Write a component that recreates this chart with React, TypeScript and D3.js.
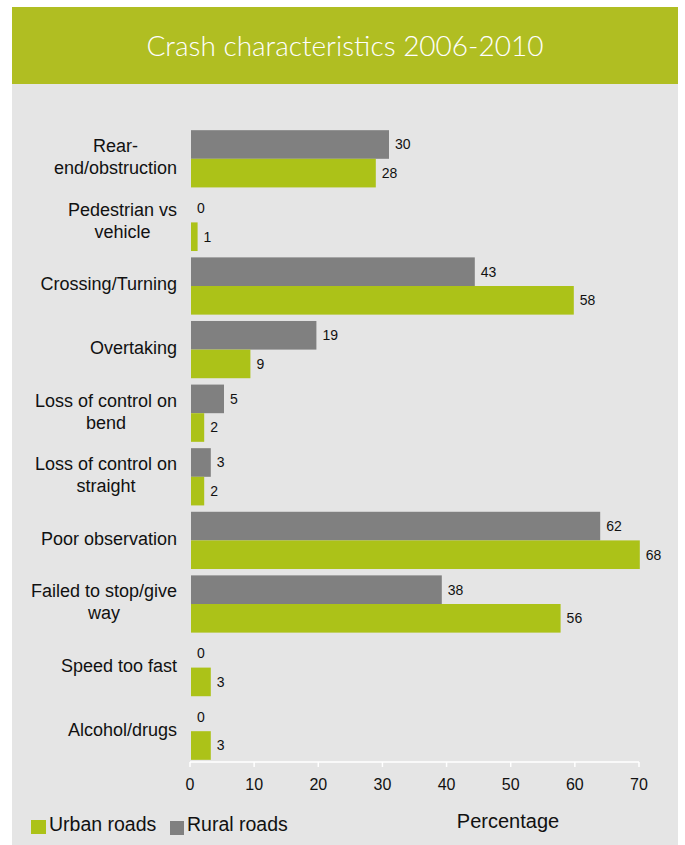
import React from "react";
import * as d3 from "d3";

const categories: string[][] = [
  ["Rear-", "end/obstruction"],
  ["Pedestrian vs", "vehicle"],
  ["Crossing/Turning"],
  ["Overtaking"],
  ["Loss of control on", "bend"],
  ["Loss of control on", "straight"],
  ["Poor observation"],
  ["Failed to stop/give", "way"],
  ["Speed too fast"],
  ["Alcohol/drugs"],
];
const urban: number[] = [28, 1, 58, 9, 2, 2, 68, 56, 3, 3];
const rural: number[] = [30, 0, 43, 19, 5, 3, 62, 38, 0, 0];
const ticks: number[] = [0, 10, 20, 30, 40, 50, 60, 70];
const title = "Crash characteristics 2006-2010";
const seriesNames = ["Urban roads", "Rural roads"];
const axisTitle = "Percentage";

const W = 685;
const H = 845;
const GREEN = "#acc218";
const HEADER = "#b0be22";
const GRAY = "#808080";
const BG = "#e5e5e5";
const FONT = "'Liberation Sans', Arial, sans-serif";

let ctx: CanvasRenderingContext2D | null = null;
function measure(text: string, font: string): number {
  if (!ctx) ctx = document.createElement("canvas").getContext("2d");
  if (!ctx) return text.length * 9;
  ctx.font = font;
  return ctx.measureText(text).width;
}

export default function App() {
  const keys = categories.map((c) => c.join(" "));
  const y = d3
    .scaleBand<string>()
    .domain(keys)
    .range([127, 763])
    .paddingInner(0.1)
    .paddingOuter(0.05);
  // bars as drawn in the original (axis is slightly out of step with the bars)
  const xBar = d3.scaleLinear().domain([0, 70]).range([191, 191 + 70 * 6.6]);
  const xAxis = d3.scaleLinear().domain([0, 70]).range([190, 639]);
  const bh = y.bandwidth() / 2;
  const labelRight = 177;
  const axisY = 762;

  return (
    <svg
      width={W}
      height={H}
      style={{ position: "absolute", left: 0, top: 0, background: "#fff" }}
    >
      <rect x={12} y={84} width={666} height={H - 84} fill={BG} />
      <rect x={12} y={7} width={666} height={77} fill={HEADER} />
      <text
        x={345}
        y={56}
        textAnchor="middle"
        fill="#fff"
        style={{ fontFamily: "Lato, 'Open Sans', sans-serif", fontWeight: 300, fontSize: 28 }}
      >
        {title}
      </text>

      {keys.map((k, i) => {
        const top = y(k)!;
        const cy = top + y.bandwidth() / 2;
        const lines = categories[i];
        const font = `18px ${FONT}`;
        const maxW = Math.max(...lines.map((l) => measure(l, font)));
        const cx = labelRight - maxW / 2;
        const lh = 22;
        return (
          <g key={k}>
            <rect x={xBar(0)} y={top} width={xBar(rural[i]) - xBar(0)} height={bh} fill={GRAY} />
            <rect x={xBar(0)} y={top + bh} width={xBar(urban[i]) - xBar(0)} height={bh} fill={GREEN} />
            <text
              x={xBar(rural[i]) + 6}
              y={top + bh / 2}
              dy="0.35em"
              fontSize={14}
              fontFamily={FONT}
              fill="#111"
            >
              {rural[i]}
            </text>
            <text
              x={xBar(urban[i]) + 6}
              y={top + bh * 1.5}
              dy="0.35em"
              fontSize={14}
              fontFamily={FONT}
              fill="#111"
            >
              {urban[i]}
            </text>
            {lines.map((l, j) => (
              <text
                key={j}
                x={lines.length > 1 ? cx : labelRight}
                y={cy - 2 + (j - (lines.length - 1) / 2) * lh}
                dy="0.35em"
                textAnchor={lines.length > 1 ? "middle" : "end"}
                fontSize={18}
                fontFamily={FONT}
                fill="#111"
              >
                {l}
              </text>
            ))}
          </g>
        );
      })}

      <line x1={xAxis(0)} x2={xAxis(70)} y1={axisY} y2={axisY} stroke="#fff" strokeWidth={1.5} />
      {ticks.map((t) => (
        <g key={t}>
          <line x1={xAxis(t)} x2={xAxis(t)} y1={axisY} y2={axisY + 5} stroke="#fff" strokeWidth={1.5} />
          <text
            x={xAxis(t)}
            y={790}
            textAnchor="middle"
            fontSize={16}
            fontFamily={FONT}
            fill="#111"
          >
            {t}
          </text>
        </g>
      ))}
      <text x={508} y={828} textAnchor="middle" fontSize={20} fontFamily={FONT} fill="#111">
        {axisTitle}
      </text>

      <rect x={31} y={820} width={15} height={14} fill={GREEN} />
      <text x={49} y={831} fontSize={19.5} fontFamily={FONT} fill="#111">
        {seriesNames[0]}
      </text>
      <rect x={170} y={821} width={14} height={14} fill={GRAY} />
      <text x={187} y={831} fontSize={19.5} fontFamily={FONT} fill="#111">
        {seriesNames[1]}
      </text>
    </svg>
  );
}
